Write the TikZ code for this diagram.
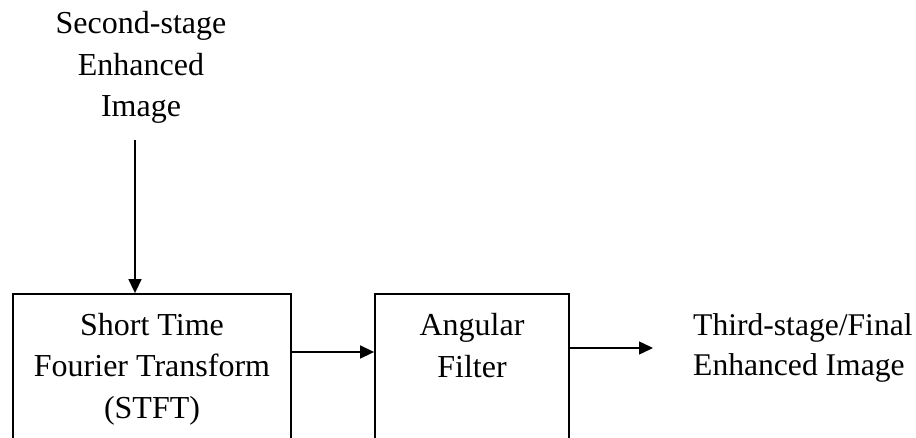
\documentclass[tikz,border=0pt]{standalone}
\usepackage{fontspec}
\setmainfont{Liberation Serif}
\usetikzlibrary{arrows.meta}

\tikzset{
  blockbox/.style={draw, line width=1.8pt, rectangle, inner sep=0pt},
  % the base anchor of a multi-line node sits on its last line
  blocktext/.style={inner sep=0pt, align=center, anchor=base,
    font=\fontsize{32}{41.5}\selectfont},
  sidetext/.style={inner sep=0pt, align=left, anchor=base west,
    font=\fontsize{31.6}{40}\selectfont},
  flow/.style={line width=1.5pt, -{Triangle[length=14pt,width=13pt]}}
}

\begin{document}
\begin{tikzpicture}[x=1pt,y=1pt]
  \useasboundingbox (0,0) rectangle (916,437);
  \clip (0,0) rectangle (916,437);

  % processing blocks (their lower edges run past the page)
  \node[blockbox, minimum width=278pt, minimum height=176pt] (stft) at (152,55) {};
  \node[blockbox, minimum width=194pt, minimum height=176pt] (filt) at (472,55) {};

  % block captions
  \node[blocktext] (stftTxt) at (152,19) {Short Time\\Fourier Transform\\(STFT)};
  \node[blocktext] (filtTxt) at (472,60) {Angular\\Filter};

  % input and output labels
  \node[blocktext] (inTxt) at (141,320) {Second-stage\\Enhanced\\Image};
  \node[sidetext] (outTxt) at (693,62) {Third-stage/Final\\Enhanced Image};

  % connectors
  \coordinate (inStart) at (135,297);
  \coordinate (outTip) at (653,89);
  \draw[flow] (inStart) -- (inStart |- stft.north);
  \draw[flow] (stft.east |- 0,85) -- (filt.west |- 0,85);
  \draw[flow] (filt.east |- outTip) -- (outTip);
\end{tikzpicture}
\end{document}
